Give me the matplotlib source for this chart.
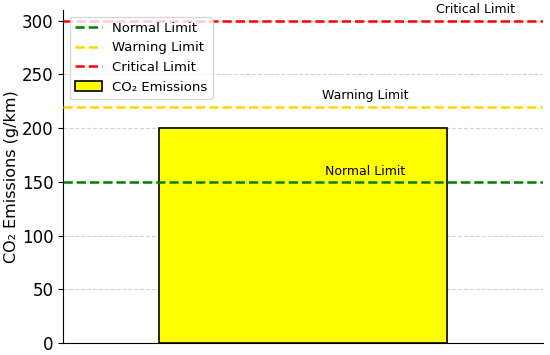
import matplotlib.pyplot as plt

categories = ['']
emissions = [200]
limit_names = ['Normal Limit', 'Warning Limit', 'Critical Limit']
limit_values = [150, 220, 300]
limit_colors = ['green', 'gold', 'red']
text_x = [0.13, 0.13, 0.36]

fig, ax = plt.subplots(figsize=(5.5, 3.55), dpi=100)
fig.subplots_adjust(left=0.115, right=0.987, bottom=0.034, top=0.972)

for name, val, col in zip(limit_names, limit_values, limit_colors):
    ax.axhline(val, color=col, linestyle='--', linewidth=1.8, label=name, zorder=3)

ax.bar(range(len(categories)), emissions, width=0.6, color='yellow',
       edgecolor='black', linewidth=1.2, label='CO₂ Emissions', zorder=2)

for name, val, x in zip(limit_names, limit_values, text_x):
    ax.text(x, val + 4, name, ha='center', va='bottom', fontsize=9, zorder=4)

ax.set_xlim(-0.5, 0.5)
ax.set_ylim(0, 310)
ax.set_xticks([])
ax.set_ylabel('CO₂ Emissions (g/km)', fontsize=11.5, labelpad=2)
ax.tick_params(axis='y', labelsize=12)
ax.yaxis.grid(True, linestyle='--', color='lightgray', linewidth=0.8, zorder=0)
ax.set_axisbelow(True)
ax.spines['top'].set_visible(False)
ax.spines['right'].set_visible(False)
ax.legend(loc='upper left', fontsize=9.5)

plt.savefig('out.png')
